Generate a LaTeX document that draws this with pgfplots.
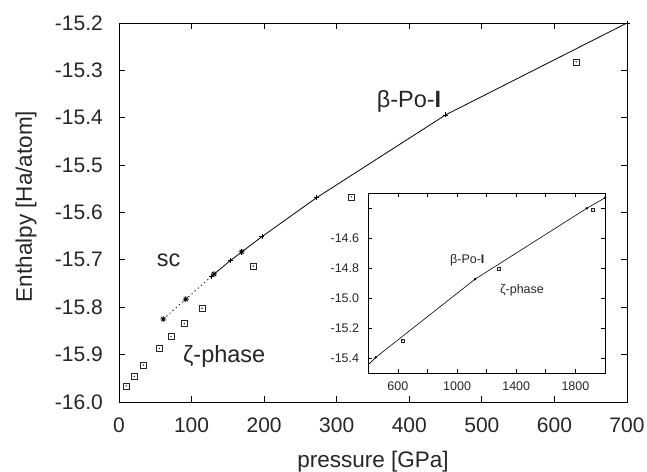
\documentclass[border=0pt]{standalone}
\usepackage{fontspec}
\setmainfont{Liberation Sans}
\usepackage{pgfplots}
\pgfplotsset{compat=1.18}

% square with a dot in the middle (gnuplot style)
\pgfdeclareplotmark{sqdot}{%
  \pgfpathrectangle{\pgfqpoint{-\pgfplotmarksize}{-\pgfplotmarksize}}{\pgfqpoint{2\pgfplotmarksize}{2\pgfplotmarksize}}%
  \pgfusepathqstroke
  \pgfpathcircle{\pgfpointorigin}{0.28\pgfplotmarksize}%
  \pgfusepathqfill}
% plus and cross overlaid
\pgfdeclareplotmark{plusx}{%
  \pgfpathmoveto{\pgfqpoint{-\pgfplotmarksize}{0pt}}\pgfpathlineto{\pgfqpoint{\pgfplotmarksize}{0pt}}%
  \pgfpathmoveto{\pgfqpoint{0pt}{-\pgfplotmarksize}}\pgfpathlineto{\pgfqpoint{0pt}{\pgfplotmarksize}}%
  \pgfpathmoveto{\pgfqpoint{-0.7\pgfplotmarksize}{-0.7\pgfplotmarksize}}\pgfpathlineto{\pgfqpoint{0.7\pgfplotmarksize}{0.7\pgfplotmarksize}}%
  \pgfpathmoveto{\pgfqpoint{-0.7\pgfplotmarksize}{0.7\pgfplotmarksize}}\pgfpathlineto{\pgfqpoint{0.7\pgfplotmarksize}{-0.7\pgfplotmarksize}}%
  \pgfusepathqstroke}

\begin{document}
\begin{tikzpicture}
\path[use as bounding box] (-119pt,-69pt) rectangle (528pt,402pt);

\begin{axis}[
    at={(0pt,0pt)}, anchor=south west,
    scale only axis,
    width=508pt, height=379pt,
    xmin=0, xmax=700, ymin=-16, ymax=-15.2,
    xtick={0,100,200,300,400,500,600,700},
    ytick={-16,-15.9,-15.8,-15.7,-15.6,-15.5,-15.4,-15.3,-15.2},
    tick align=inside,
    major tick length=6pt,
    axis line style={line width=0.8pt},
    every tick/.style={line width=0.8pt, black},
    tick label style={font=\fontsize{21}{25}\selectfont, text=black!85},
    /pgf/number format/assume math mode=true,
    yticklabel style={/pgf/number format/fixed, /pgf/number format/precision=1,
      /pgf/number format/zerofill, anchor=east, inner sep=0pt, xshift=-16pt},
    xticklabel style={anchor=north, inner sep=0pt, yshift=-16pt},
    xlabel={pressure [GPa]},
    ylabel={Enthalpy [Ha/atom]},
    label style={font=\fontsize{22.5}{26}\selectfont, text=black!85},
    xlabel style={at={([yshift=-65pt]axis description cs:0.5,0)}, anchor=base, inner sep=0pt},
    ylabel style={at={([xshift=-87pt,yshift=6pt]axis description cs:0,0.5)}, anchor=base, inner sep=0pt},
]
% beta-Po-I
\addplot[black, line width=0.8pt, mark=+, mark size=2.5pt] coordinates {
  (127,-15.735) (153,-15.702) (197,-15.651) (272,-15.569) (450,-15.394) (700,-15.2)
};
% sc
\addplot[black, line width=0.8pt, dash pattern=on 1.2pt off 3pt, mark=plusx, mark size=3pt, mark options={solid}] coordinates {
  (61,-15.825) (92,-15.783) (131,-15.730)
};
\addplot[black, line width=0.8pt, only marks, mark=plusx, mark size=3pt] coordinates {
  (169,-15.683)
};
% zeta-phase
\addplot[black!85, line width=0.7pt, only marks, mark=sqdot, mark size=3pt] coordinates {
  (10,-15.966) (21,-15.946) (33.5,-15.922) (55.6,-15.887) (71.7,-15.862)
  (90,-15.835) (114.4,-15.802) (185,-15.713) (320,-15.567) (630,-15.282)
};
\node[anchor=base west, inner sep=0pt, font=\fontsize{23.5}{27}\selectfont, text=black!85] at (axis cs:355,-15.379) {β-Po-\textbf{I}};
\node[anchor=base west, inner sep=0pt, font=\fontsize{23.5}{27}\selectfont, text=black!85] at (axis cs:52,-15.714) {sc};
\node[anchor=base west, inner sep=0pt, font=\fontsize{23.5}{27}\selectfont, text=black!85] at (axis cs:88,-15.916) {ζ-phase};
\end{axis}

\begin{axis}[
    at={(249.3pt,28.7pt)}, anchor=south west,
    scale only axis,
    width=236.7pt, height=180pt,
    xmin=400, xmax=2000, ymin=-15.5, ymax=-14.3,
    xtick={600,1000,1400,1800},
    minor xtick={400,800,1200,1600,2000},
    ytick={-15.4,-15.2,-15.0,-14.8,-14.6},
    minor ytick={-14.4},
    /pgf/number format/1000 sep={},
    tick align=inside,
    major tick length=4pt, minor tick length=4pt,
    axis line style={line width=0.7pt},
    every tick/.style={line width=0.7pt, black},
    tick label style={font=\fontsize{12.5}{14}\selectfont, text=black!85},
    /pgf/number format/assume math mode=true,
    yticklabel style={/pgf/number format/fixed, /pgf/number format/precision=1,
      /pgf/number format/zerofill, anchor=east, inner sep=0pt, xshift=-9pt},
    xticklabel style={anchor=north, inner sep=0pt, yshift=-8.5pt},
]
\addplot[black, line width=0.6pt, mark=*, mark size=0.9pt] coordinates {
  (272,-15.569) (450,-15.394) (1121,-14.873) (1877,-14.400) (2000,-14.33)
};
\addplot[black!85, line width=0.5pt, only marks, mark=sqdot, mark size=1.6pt] coordinates {
  (632,-15.283) (1284,-14.805) (1917,-14.411)
};
\node[anchor=base west, inner sep=0pt, font=\fontsize{12.5}{15}\selectfont, text=black!85] at (axis cs:952,-14.771) {β-Po-\textbf{I}};
\node[anchor=base west, inner sep=0pt, font=\fontsize{12.5}{15}\selectfont, text=black!85] at (axis cs:1290,-14.967) {ζ-phase};
\end{axis}
\end{tikzpicture}
\end{document}
